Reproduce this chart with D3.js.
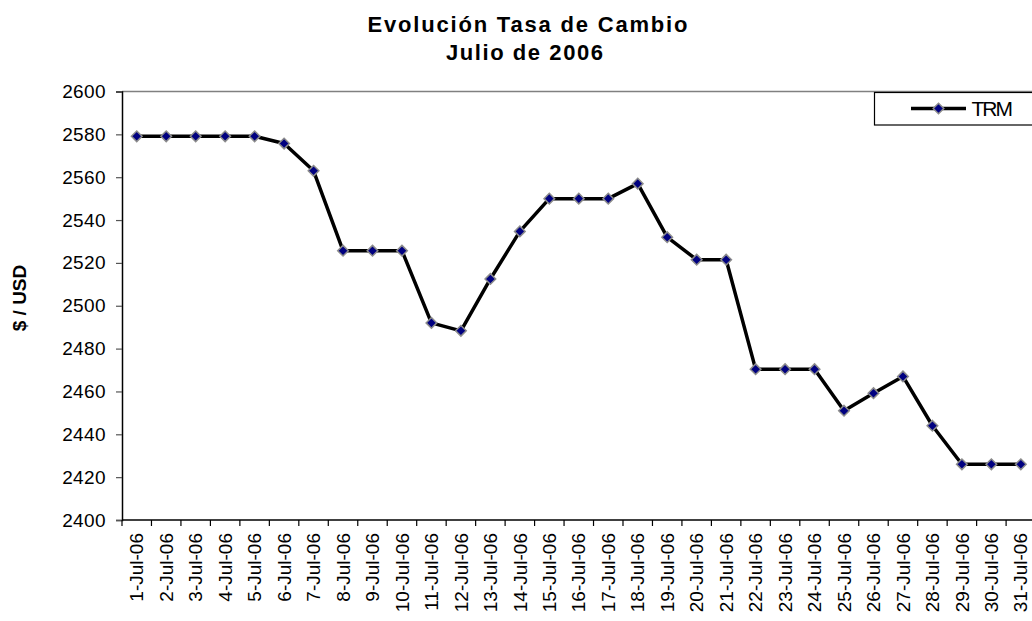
<!DOCTYPE html>
<html>
<head>
<meta charset="utf-8">
<script src="https://cdn.jsdelivr.net/npm/d3@7"></script>
<style>
  html, body { margin: 0; padding: 0; background: #fff; overflow: hidden; }
  svg { display: block; }
  text { font-family: "Liberation Sans", Arial, sans-serif; fill: #000; }
</style>
</head>
<body>
<svg id="chart" width="1032" height="621"></svg>
<script>
const categories = ["1-Jul-06","2-Jul-06","3-Jul-06","4-Jul-06","5-Jul-06","6-Jul-06","7-Jul-06","8-Jul-06","9-Jul-06","10-Jul-06","11-Jul-06","12-Jul-06","13-Jul-06","14-Jul-06","15-Jul-06","16-Jul-06","17-Jul-06","18-Jul-06","19-Jul-06","20-Jul-06","21-Jul-06","22-Jul-06","23-Jul-06","24-Jul-06","25-Jul-06","26-Jul-06","27-Jul-06","28-Jul-06","29-Jul-06","30-Jul-06","31-Jul-06"];
const trm = [2579.1,2579.1,2579.1,2579.1,2579.1,2575.7,2563.0,2525.7,2525.7,2525.7,2492.0,2488.3,2512.5,2534.7,2550.0,2550.0,2550.0,2557.0,2532.0,2521.5,2521.5,2470.4,2470.4,2470.4,2451.0,2459.2,2467.0,2444.0,2426.0,2426.0,2426.0];
const yTicks = [2400,2420,2440,2460,2480,2500,2520,2540,2560,2580,2600];
const seriesName = "TRM";
const titleLines = ["Evolución Tasa de Cambio", "Julio de 2006"];
const yTitle = "$ / USD";

(function () {
const svg = d3.select("#chart");
const pLeft = 122, pTop = 91.5, pBottom = 520, bandW = 29.47;
const pRight = pLeft + bandW * categories.length;

const x = d3.scaleBand().domain(categories).range([pLeft, pRight]).padding(0);
const y = d3.scaleLinear().domain([2400, 2600]).range([pBottom, pTop]);

// plot area border (top gray line)
svg.append("line").attr("x1", pLeft).attr("x2", pRight).attr("y1", pTop).attr("y2", pTop)
  .attr("stroke", "#808080").attr("stroke-width", 1.5);

// Y axis
const yAxis = svg.append("g").attr("transform", `translate(${pLeft},0)`)
  .call(d3.axisLeft(y).tickValues(yTicks).tickSize(6).tickPadding(10).tickFormat(d3.format("d")));
yAxis.attr("font-family", null).attr("font-size", null);
yAxis.select(".domain").attr("stroke", "#000").attr("stroke-width", 1.5);
yAxis.selectAll(".tick line").attr("stroke", "#555").attr("stroke-width", 1.2);
yAxis.selectAll(".tick text").style("font-size", "19px").style("letter-spacing", "0.4px");

// X axis with ticks at band boundaries
const xAxisG = svg.append("g").attr("transform", `translate(0,${pBottom})`);
xAxisG.append("line").attr("x1", pLeft).attr("x2", pRight).attr("stroke", "#000").attr("stroke-width", 1.5);
const bounds = categories.map(c => x(c)).concat([pRight]);
xAxisG.selectAll("line.tk").data(bounds).join("line").attr("class","tk")
  .attr("x1", d => d).attr("x2", d => d).attr("y1", 0).attr("y2", 6)
  .attr("stroke", "#000").attr("stroke-width", 1.2);
xAxisG.selectAll("text").data(categories).join("text")
  .attr("transform", d => `translate(${x(d) + x.bandwidth()/2},13) rotate(-90)`)
  .attr("text-anchor", "end").attr("dy", "0.35em")
  .style("font-size", "19px")
  .text(d => d);

// line
const pts = categories.map((c, i) => ({c, v: trm[i]}));
svg.append("path").datum(pts)
  .attr("fill", "none").attr("stroke", "#000").attr("stroke-width", 3.5).attr("stroke-linejoin", "round")
  .attr("d", d3.line().x(d => x(d.c) + x.bandwidth()/2).y(d => y(d.v)));

const diamond = d3.symbol().type(d3.symbolDiamond2).size(72);
svg.selectAll("path.mk").data(pts).join("path").attr("class","mk")
  .attr("d", diamond)
  .attr("transform", d => `translate(${x(d.c) + x.bandwidth()/2},${y(d.v)})`)
  .attr("fill", "#000080").attr("stroke", "#8c8c8c").attr("stroke-width", 1.5);

// Titles
svg.append("text").attr("x", 527.5).attr("y", 32).attr("text-anchor", "middle")
  .attr("textLength", 320)
  .style("font-size", "22px").style("font-weight", "bold").text(titleLines[0]);
svg.append("text").attr("x", 524.5).attr("y", 60).attr("text-anchor", "middle")
  .attr("textLength", 157)
  .style("font-size", "22px").style("font-weight", "bold").text(titleLines[1]);

// Y axis title
svg.append("text").attr("transform", "translate(19,298) rotate(-90)")
  .attr("text-anchor", "middle").attr("dy", "0.35em")
  .style("font-size", "19px").style("font-weight", "bold").text(yTitle);

// Legend
const lg = svg.append("g");
lg.append("rect").attr("x", 874.5).attr("y", 92.5).attr("width", 200).attr("height", 32.5)
  .attr("fill", "#fff").attr("stroke", "#000").attr("stroke-width", 1.2);
lg.append("line").attr("x1", 911).attr("x2", 966).attr("y1", 108.5).attr("y2", 108.5)
  .attr("stroke", "#000").attr("stroke-width", 3.5);
lg.append("path").attr("d", diamond).attr("transform", "translate(938.5,108.5)")
  .attr("fill", "#000080").attr("stroke", "#8c8c8c").attr("stroke-width", 1.5);
lg.append("text").attr("x", 971.5).attr("y", 108.5).attr("dy", "0.35em")
  .style("font-size", "21px").style("letter-spacing", "-2px").text(seriesName);
})();
</script>
</body>
</html>
